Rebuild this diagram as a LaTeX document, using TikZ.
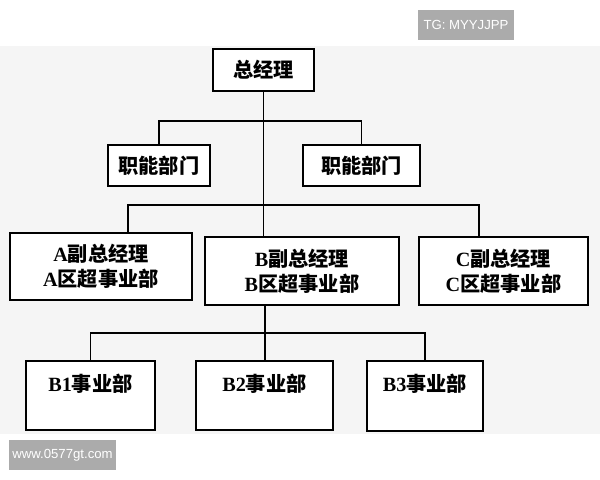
\documentclass[tikz,border=0pt]{standalone}
\usepackage{fontspec}
\setmainfont{Liberation Serif}
\newfontfamily\cjk{Noto Sans CJK SC}
\newfontfamily\tagfont{Liberation Sans}
\usetikzlibrary{positioning}
\newcommand{\zh}[1]{{\cjk\bfseries #1}}

\begin{document}
\begin{tikzpicture}[x=0.02cm,y=-0.02cm,
box/.style={draw,thick,rectangle,fill=white,inner sep=0pt,font=\fontsize{11.5}{14}\selectfont\bfseries,align=center},
stamp/.style={fill=black!33,text=white,inner sep=0pt,font=\tagfont\fontsize{7.5}{9}\selectfont},
link/.style={semithick}]
\useasboundingbox[fill=white] (0,0) rectangle (600,480);
\fill[black!4] (0,46) rectangle (600,434);
% top levels
\node (gm) [box,minimum width=2.02cm,minimum height=0.84cm] at (263.5,70) {\zh{总经理}};
\node (fl) [box,minimum width=2.04cm,minimum height=0.82cm] at (159,165.5) {\zh{职能部门}};
\node (fr) [box,minimum width=2.34cm,minimum height=0.82cm] at (361.5,165.5) {\zh{职能部门}};
\node (vpa) [box,minimum width=3.64cm,minimum height=1.34cm] at (101,266.5)
    {A\zh{副总经理}\\A\zh{区超事业部}};
\node (vpb) [box,minimum width=3.88cm,minimum height=1.36cm] at (302,271)
    {B\zh{副总经理}\\B\zh{区超事业部}};
\node (vpc) [box,minimum width=3.38cm,minimum height=1.36cm] at (503.5,271)
    {C\zh{副总经理}\\C\zh{区超事业部}};
% business units
\node (bu1) [box,minimum width=2.58cm,minimum height=1.38cm,
    label={[anchor=north,yshift=-0.16cm,font=\fontsize{11.5}{14}\selectfont\bfseries]north:B1\zh{事业部}}] at (90.5,395.5) {};
\node (bu2) [box,minimum width=2.74cm,minimum height=1.38cm,
    label={[anchor=north,yshift=-0.16cm,font=\fontsize{11.5}{14}\selectfont\bfseries]north:B2\zh{事业部}}] at (264.5,395.5) {};
\node (bu3) [box,minimum width=2.32cm,minimum height=1.40cm,
    label={[anchor=north,yshift=-0.16cm,font=\fontsize{11.5}{14}\selectfont\bfseries]north:B3\zh{事业部}}] at (425,396) {};
% junctions
\coordinate (jf) at (263,121);
\coordinate (ja) at (128,205);
\coordinate (jc) at (479,205);
\coordinate (jb) at (265,333);
\draw[link] (gm) -- (gm |- vpb.north);
\draw[link] (fl.north) |- (jf) -| (fr.north);
\draw[link] (ja |- vpa.north) -- (ja) -- (jc) -- (jc |- vpc.north);
\draw[link] (jb |- vpb.south) -- (jb |- bu2.north);
\draw[link] (bu1.north) |- (jb) -| (bu3.north);
% stamps
\node (tg) [stamp,minimum width=1.92cm,minimum height=0.6cm] at (466,25) {TG: MYYJJPP};
\node (web) [stamp,minimum width=2.14cm,minimum height=0.6cm] at (62.5,455) {www.0577gt.com};
\end{tikzpicture}
\end{document}
